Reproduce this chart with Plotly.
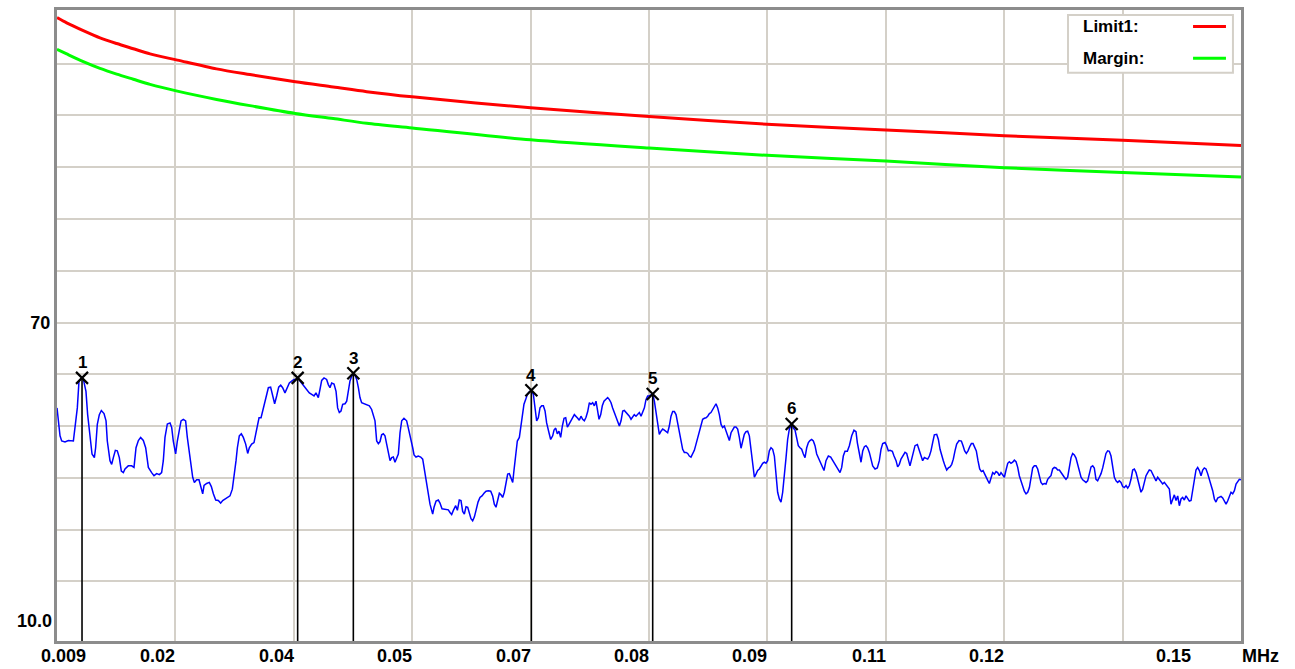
import plotly.graph_objects as go

# ---------------- data (frequency in kHz, level in dBuV) ----------------
trace_khz = [
    9.0, 9.36, 9.56, 9.95, 10.35, 10.95, 11.14, 11.42, 11.62, 11.86, 11.98, 12.14, 12.45, 12.65, 12.93,
    13.17, 13.45, 13.60, 13.80, 14.04, 14.28, 14.60, 14.84, 14.99, 15.31, 15.51, 15.71, 15.95, 16.18,
    16.42, 16.66, 16.90, 17.10, 17.49, 17.89, 18.17, 18.41, 18.69, 18.96, 19.28, 19.56, 19.88, 20.27,
    20.55, 20.87, 21.19, 21.46, 21.66, 21.86, 22.14, 22.46, 22.66, 22.85, 23.13, 23.33, 23.57, 23.77,
    24.04, 24.32, 24.52, 24.84, 25.16, 25.36, 25.63, 25.91, 26.15, 26.35, 26.51, 26.82, 27.14, 27.38,
    27.62, 27.90, 28.21, 28.49, 28.73, 29.01, 29.32, 29.60, 29.88, 30.08, 30.32, 30.48, 30.71, 30.95,
    31.19, 31.47, 31.71, 31.90, 32.18, 32.46, 32.66, 32.86, 33.06, 33.30, 33.49, 33.77, 33.97, 34.17,
    34.44, 34.68, 34.92, 35.16, 35.40, 35.64, 35.87, 36.15, 36.43, 36.67, 36.95, 37.22, 37.42, 37.66,
    37.94, 38.34, 38.73, 39.05, 39.33, 39.61, 39.84, 40.12, 40.32, 40.52, 40.80, 41.11, 41.31, 41.51,
    41.71, 41.99, 42.23, 42.42, 42.62, 42.82, 43.02, 43.30, 43.50, 43.69, 43.89, 44.09, 44.29, 44.49,
    44.69, 44.89, 45.08, 45.28, 45.56, 45.88, 46.20, 46.47, 46.67, 46.87, 47.07, 47.27, 47.47, 47.66,
    47.86, 48.06, 48.26, 48.46, 48.66, 48.86, 49.05, 49.25, 49.45, 49.65, 49.85,
    50.05, 50.32, 50.64, 50.84, 51.12, 51.36, 51.52, 51.75, 52.03, 52.31, 52.55, 52.71, 52.94, 53.10,
    53.26, 53.42, 53.62, 53.74, 53.90, 54.14, 54.41, 54.61, 54.85, 55.21, 55.60, 55.80, 56.00, 56.20,
    56.48, 56.68, 56.91, 57.11, 57.31, 57.51, 57.71, 57.91, 58.10, 58.30, 58.50, 58.70, 58.90, 59.14,
    59.37, 59.61, 59.85, 60.09, 60.37, 60.65, 60.88, 61.08, 61.28, 61.44, 61.68, 61.88, 62.07, 62.27,
    62.47, 62.67, 62.87, 63.07, 63.27, 63.42, 63.66, 63.82, 64.06, 64.22, 64.42, 64.61, 64.81, 65.01,
    65.25, 65.49, 65.73, 65.92, 66.12, 66.32, 66.52, 66.72, 66.92, 67.12, 67.31, 67.59, 67.79, 68.03,
    68.19, 68.39, 68.58, 68.78, 68.98, 69.18, 69.38, 69.58, 69.78, 69.97, 70.17, 70.41, 70.61, 70.81,
    71.01, 71.20, 71.40, 71.60, 71.80, 72.00, 72.20, 72.40, 72.59, 72.79, 72.99, 73.19, 73.39, 73.55,
    73.75, 73.94, 74.14, 74.38, 74.58, 74.78, 74.98, 75.17, 75.37, 75.57, 75.77, 75.97, 76.17, 76.37,
    76.56, 76.76, 76.96, 77.16, 77.36, 77.56, 77.75, 77.95, 78.15, 78.35, 78.55, 78.75, 78.95, 79.14,
    79.34, 79.54, 79.74, 79.94, 80.14, 80.33, 80.53, 80.73, 80.93, 81.13, 81.33, 81.53, 81.72, 81.92,
    82.12, 82.32, 82.52, 82.72, 82.92, 83.11, 83.31, 83.51, 83.71, 83.91, 84.11, 84.30, 84.50, 84.70,
    84.90, 85.10, 85.30, 85.50, 85.69, 85.89, 86.09, 86.29, 86.49, 86.69, 86.88, 87.08, 87.28, 87.48,
    87.68, 87.88, 88.08, 88.27, 88.47, 88.67, 88.87, 89.07, 89.27, 89.46, 89.66, 89.86, 90.06, 90.26,
    90.46, 90.66, 90.85, 91.05, 91.25, 91.45, 91.65, 91.85, 92.05, 92.24, 92.44, 92.64, 92.84, 93.04,
    93.24, 93.43, 93.63, 93.83, 94.03, 94.23, 94.43, 94.63, 94.82, 95.02, 95.22, 95.42, 95.62, 95.82,
    96.01, 96.21, 96.49, 96.69, 96.89, 97.09, 97.28, 97.48, 97.68, 97.88, 98.08, 98.28, 98.48, 98.67,
    98.87, 99.07, 99.27, 99.47, 99.67, 99.87,
    100.06, 100.34, 100.58, 100.86, 101.14, 101.37, 101.65, 101.93, 102.25, 102.45, 102.64, 102.84,
    103.12, 103.36, 103.64, 103.91, 104.15, 104.31, 104.55, 104.75, 104.95, 105.15, 105.34, 105.54,
    105.74, 105.94, 106.14, 106.42, 106.69, 106.93, 107.13, 107.33, 107.61, 107.80, 108.00, 108.20,
    108.48, 108.68, 108.92, 109.11, 109.31, 109.51, 109.79, 109.99, 110.19, 110.39, 110.58, 110.78,
    110.98, 111.18, 111.46, 111.70, 111.89, 112.09, 112.29, 112.49, 112.69, 112.89, 113.08, 113.28,
    113.48, 113.76, 113.96, 114.16, 114.35, 114.55, 114.75, 114.95, 115.15, 115.35, 115.55, 115.74,
    115.94, 116.14, 116.42, 116.70, 116.90, 117.09, 117.29, 117.49, 117.69, 117.89, 118.09, 118.28,
    118.48, 118.68, 118.88, 119.08, 119.28, 119.48, 119.67, 119.87, 120.03, 120.23, 120.43, 120.63,
    120.83, 121.02, 121.22, 121.42, 121.62, 121.82, 122.02, 122.22, 122.41, 122.61, 122.81, 123.01,
    123.21, 123.41, 123.60, 123.80, 124.00, 124.20, 124.40, 124.60, 124.80, 124.99, 125.19, 125.39,
    125.59, 125.79, 125.99, 126.18, 126.38, 126.58, 126.78, 126.98, 127.18, 127.37, 127.57, 127.77,
    127.97, 128.17, 128.37, 128.57, 128.76, 128.96, 129.16, 129.36, 129.56, 129.76, 129.95, 130.15,
    130.35, 130.55, 130.75, 130.95, 131.15, 131.34, 131.54, 131.74, 131.94, 132.14, 132.34, 132.53,
    132.73, 132.93, 133.13, 133.33, 133.53, 133.73, 133.92, 134.12, 134.32, 134.52, 134.72, 134.92,
    135.12, 135.31, 135.51, 135.71, 135.91, 136.11, 136.31, 136.51, 136.70, 136.90, 137.10, 137.30,
    137.50, 137.70, 137.89, 138.09, 138.29, 138.49, 138.69, 138.89, 139.08, 139.28, 139.48, 139.68,
    139.88, 140.08, 140.28, 140.47, 140.67, 140.87, 141.07, 141.27, 141.47, 141.66, 141.86, 142.06,
    142.26, 142.46, 142.66, 142.86, 143.05, 143.25, 143.45, 143.65, 143.85, 144.05, 144.25, 144.44,
    144.64, 144.84, 145.04, 145.24, 145.44, 145.63, 145.83, 146.03, 146.23, 146.43, 146.63, 146.83,
    147.02, 147.22, 147.42, 147.62, 147.82, 148.02, 148.22, 148.41, 148.61, 148.81, 149.01, 149.21,
    149.41, 149.61, 149.80, 150.0,
]
trace_dbuv = [
    53.5, 48.1, 47.1, 46.9, 47.2, 47.1, 49.7, 53.5, 58.7, 59.3, 59.4, 59.0, 56.7, 52.2, 48.4,
    44.6, 43.9, 45.8, 50.3, 52.2, 53.0, 52.4, 51.0, 47.1, 43.3, 42.6, 43.9, 45.3, 45.2,
    43.9, 41.3, 41.0, 41.7, 42.3, 42.3, 42.0, 45.8, 47.2, 47.8, 47.2, 45.8, 42.0, 41.0,
    40.4, 40.8, 40.6, 41.0, 43.3, 47.8, 50.4, 50.6, 49.7, 47.1, 44.6, 47.1, 49.7, 51.0,
    51.3, 51.0, 47.8, 43.9, 40.1, 39.1, 39.6, 39.6, 38.1, 36.9, 38.5, 38.9, 39.1, 38.3,
    36.9, 35.7, 35.6, 35.1, 35.6, 35.9, 36.1, 36.5, 37.8, 40.1, 43.3, 45.8, 48.1, 48.5,
    47.8, 46.5, 44.7, 45.8, 46.5, 46.8, 48.4, 50.6, 51.6, 51.6, 52.9, 54.5, 56.1, 57.4,
    57.5, 56.1, 54.3, 55.8, 57.5, 57.9, 57.4, 56.4, 57.4, 58.3, 58.7, 59.0, 59.0, 59.4,
    58.7, 57.9, 57.2, 56.4, 56.1, 55.8, 56.4, 55.5, 57.1, 58.8, 59.3, 59.0, 58.0, 57.4,
    58.3, 58.1, 56.7, 53.5, 52.6, 52.9, 54.2, 54.3, 54.8, 56.7, 58.7, 59.6, 60.2, 59.8,
    59.0, 57.4, 55.5, 54.5, 54.3, 54.0, 53.9, 53.2, 52.2, 51.0, 47.1, 46.6, 47.0, 48.3,
    48.5, 48.1, 46.5, 44.6, 43.3, 43.9, 44.0, 43.0, 44.0, 44.6, 48.7,
    51.0, 51.5, 51.0, 49.6, 47.8, 45.8, 44.4, 44.0, 44.2, 44.0, 43.6, 42.0, 40.1, 38.1,
    36.2, 34.9, 33.7, 33.0, 34.3, 35.5, 35.7, 35.1, 34.0, 33.9, 33.8, 33.3, 32.9, 33.7,
    34.6, 33.7, 35.7, 35.6, 33.5, 33.0, 34.4, 34.3, 33.1, 32.1, 31.7, 32.4, 33.7, 35.3,
    36.2, 36.5, 37.0, 37.4, 37.5, 37.4, 36.5, 34.9, 34.3, 35.7, 37.0, 36.7, 36.2, 37.2,
    38.8, 40.7, 40.8, 40.1, 39.1, 41.4, 44.6, 47.1, 47.8, 49.4, 52.2, 54.2, 55.1, 56.1,
    56.6, 56.9, 56.1, 53.5, 51.0, 51.6, 53.5, 53.9, 53.9, 52.9, 50.6, 48.7, 47.4, 48.1,
    49.2, 49.6, 48.5, 49.0, 47.8, 50.0, 51.5, 51.6, 49.8, 50.3, 51.0, 51.6, 52.2, 51.9,
    51.5, 51.1, 51.9, 51.3, 51.0, 51.7, 52.8, 54.5, 54.2, 54.5, 53.9, 54.8, 52.9, 51.3,
    52.2, 53.9, 54.8, 55.3, 55.5, 55.1, 54.5, 53.5, 52.6, 51.5, 50.6, 50.0, 51.0, 52.9,
    53.0, 52.6, 52.4, 51.9, 51.3, 51.7, 52.2, 51.9, 52.2, 52.6, 51.9, 52.9, 53.5, 55.1,
    55.8, 55.8, 56.0, 56.2, 54.8, 52.6, 49.7, 48.4, 49.0, 49.4, 49.2, 49.0, 48.7, 50.0,
    51.9, 52.8, 52.8, 52.2, 50.3, 49.0, 47.1, 45.5, 44.9, 44.9, 44.7, 44.2, 44.0, 44.6,
    45.3, 46.5, 47.8, 49.0, 50.3, 51.3, 51.5, 51.6, 51.9, 52.4, 52.6, 53.2, 53.7, 54.3,
    53.5, 52.2, 50.3, 49.7, 50.0, 49.0, 48.4, 47.2, 48.7, 49.4, 49.8, 49.8, 49.4, 47.8,
    45.7, 47.1, 48.4, 48.9, 49.0, 48.1, 45.2, 43.3, 40.1, 40.7, 41.4, 41.7, 42.3, 42.8,
    43.0, 42.8, 43.3, 45.2, 45.8, 45.5, 44.2, 40.7, 37.2, 35.9, 35.3, 37.2, 40.1, 43.9,
    47.4, 49.4, 50.5, 49.6, 49.2, 47.8, 46.2, 45.8, 45.5, 44.6, 43.9, 45.8, 46.8, 47.2,
    47.4, 47.1, 46.2, 44.6, 43.9, 43.3,
    42.3, 41.4, 43.3, 44.2, 44.0, 43.4, 42.8, 41.9, 41.0, 42.0, 44.2, 45.1,
    45.1, 46.2, 48.1, 49.2, 48.9, 46.8, 44.9, 43.0, 45.2, 46.0, 46.2, 45.8,
    44.9, 43.6, 42.3, 41.7, 41.9, 43.3, 45.5, 46.6, 46.8, 46.2, 45.2, 45.3,
    45.1, 44.2, 43.3, 42.1, 42.6, 43.6, 44.4, 44.9, 44.7, 43.6, 42.3, 43.6,
    45.2, 46.2, 46.4, 45.2, 44.2, 43.3, 43.9, 43.8, 43.6, 44.2, 45.2, 46.8,
    48.3, 48.4, 47.4, 45.5, 44.2, 43.3, 42.3, 41.5, 41.9, 42.1, 42.6, 43.6,
    45.2, 46.5, 47.2, 47.1, 46.2, 45.2, 44.7, 45.2, 46.0, 46.6, 46.6, 45.8,
    45.2, 43.3, 41.7, 41.2, 41.4, 40.7, 40.2, 39.4, 38.9, 40.1, 41.0, 40.7,
    41.2, 41.0, 40.4, 41.0, 40.4, 40.1, 41.5, 42.8, 43.1, 42.8, 43.0, 43.4,
    43.1, 42.0, 40.4, 39.4, 38.1, 37.4, 36.9, 37.2, 38.1, 40.1, 41.9, 42.3,
    42.3, 41.7, 40.1, 39.1, 38.7, 38.9, 38.8, 39.7, 40.1, 40.4, 41.7, 42.0,
    41.9, 41.5, 41.5, 41.0, 40.4, 40.1, 39.7, 40.1, 42.0, 43.9, 44.7, 44.4,
    43.8, 42.5, 41.2, 40.1, 39.6, 39.3, 39.1, 39.4, 40.7, 42.1, 42.3, 41.9,
    39.7, 39.4, 40.1, 40.8, 41.9, 43.3, 44.7, 45.2, 45.1, 44.2, 41.9, 40.1,
    39.4, 39.1, 39.4, 39.1, 38.3, 38.1, 38.5, 38.0, 38.5, 39.7, 41.5, 41.7,
    41.0, 39.7, 38.3, 37.2, 37.8, 39.1, 40.4, 41.0, 41.5, 41.4, 40.7, 39.9,
    39.4, 40.1, 39.7, 39.1, 38.8, 39.1, 38.7, 38.3, 37.8, 34.9, 35.9, 36.7,
    35.6, 36.5, 34.6, 35.9, 36.2, 35.7, 36.5, 36.1, 35.5, 35.6, 37.5, 40.1,
    41.5, 42.0, 41.4, 40.4, 41.5, 41.9, 41.7, 40.8, 39.7, 38.7, 37.5, 35.9,
    35.3, 36.1, 36.2, 36.4, 36.1, 35.6, 34.9, 35.5, 36.4, 37.2, 36.9, 37.5,
    38.8, 39.4, 39.7, 39.6,
]

limit_khz = [9.0, 10.15, 12.13, 14.12, 16.11, 18.09, 20.08, 23.33, 28.0, 31.98, 37.38,
             41.9, 45.88, 51.3, 65.4, 79.5, 93.55, 107.7, 121.8, 135.9, 150.0]
limit_dbuv = [128.9, 127.9, 126.4, 125.0, 123.9, 122.9, 121.9, 120.7, 119.0, 117.9, 116.5,
              115.5, 114.6, 113.6, 111.5, 109.8, 108.3, 107.2, 106.1, 105.2, 104.2]

margin_khz = [9.0, 10.15, 12.13, 14.12, 16.11, 18.09, 20.08, 23.33, 28.0, 31.98, 37.38,
              41.9, 45.88, 51.3, 65.4, 79.5, 93.55, 107.7, 121.8, 135.9, 150.0]
margin_dbuv = [122.8, 121.9, 120.4, 119.1, 118.0, 117.0, 116.0, 114.7, 113.1, 111.9, 110.4,
               109.4, 108.5, 107.6, 105.3, 103.7, 102.3, 101.2, 99.9, 99.0, 98.1]

marker_labels = ["1", "2", "3", "4", "5", "6"]
marker_khz = [11.98, 37.66, 44.29, 65.49, 79.94, 96.49]
marker_dbuv = [59.3, 59.3, 60.2, 56.9, 56.2, 50.4]

# axis: linear 0.009 .. 0.15 MHz, ten divisions
x_range_mhz = [0.009, 0.15]
x_grid_mhz = [0.0231, 0.0372, 0.0513, 0.0654, 0.0795, 0.0936, 0.1077, 0.1218, 0.1359]
x_label_mhz = [0.009, 0.0231, 0.0372, 0.0513, 0.0654, 0.0795, 0.0936, 0.1077, 0.1218, 0.15]
x_label_text = ["0.009", "0.02", "0.04", "0.05", "0.07", "0.08", "0.09", "0.11", "0.12", "0.15"]
y_range = [8.46, 130.38]
y_grid = [20, 30, 40, 50, 60, 70, 80, 90, 100, 110, 120]
y_grid_text = ["", "", "", "", "", "70", "", "", "", "", ""]

# ---------------- figure ----------------
FONT = "Liberation Sans, Arial, sans-serif"
to_mhz = lambda seq: [v / 1000.0 for v in seq]

fig = go.Figure()

fig.add_trace(go.Scatter(x=to_mhz(limit_khz), y=limit_dbuv, mode="lines",
                         line=dict(color="#ff0000", width=3, shape="spline", smoothing=0.8),
                         hoverinfo="skip", showlegend=False))
fig.add_trace(go.Scatter(x=to_mhz(margin_khz), y=margin_dbuv, mode="lines",
                         line=dict(color="#00ff00", width=3, shape="spline", smoothing=0.8),
                         hoverinfo="skip", showlegend=False))
fig.add_trace(go.Scatter(x=to_mhz(trace_khz), y=trace_dbuv, mode="lines",
                         line=dict(color="#0000ff", width=1.5),
                         hoverinfo="skip", showlegend=False))

# marker drop lines
lx, ly = [], []
for f, v in zip(marker_khz, marker_dbuv):
    lx += [f / 1000.0, f / 1000.0, None]
    ly += [v, y_range[0], None]
fig.add_trace(go.Scatter(x=lx, y=ly, mode="lines", line=dict(color="#000000", width=1.6),
                         hoverinfo="skip", showlegend=False))
fig.add_trace(go.Scatter(x=to_mhz(marker_khz), y=marker_dbuv, mode="markers",
                         marker=dict(symbol="x-thin-open", size=12, color="#000000",
                                     line=dict(color="#000000", width=2.2)),
                         hoverinfo="skip", showlegend=False))

annotations = []
for f, v, lab in zip(marker_khz, marker_dbuv, marker_labels):
    annotations.append(dict(x=f / 1000.0, y=v, xref="x", yref="y", yanchor="middle",
                            xanchor="center", yshift=15, text=lab, showarrow=False,
                            font=dict(family=FONT, size=17, color="#000000", weight=700)))

for i, (xv, txt) in enumerate(zip(x_label_mhz, x_label_text)):
    if i == 0:
        anchor, shift = "left", -18
    elif i == len(x_label_mhz) - 1:
        anchor, shift = "right", -48
    else:
        anchor, shift = "right", 2
    annotations.append(dict(x=xv, xref="x", y=0, yref="paper", yanchor="top", yshift=-3,
                            xanchor=anchor, xshift=shift, text=txt, showarrow=False,
                            font=dict(family=FONT, size=18, color="#000000", weight=700)))
annotations.append(dict(x=1, xref="paper", y=0, yref="paper", yanchor="top", yshift=-3,
                        xanchor="left", xshift=-1, text="MHz", showarrow=False,
                        font=dict(family=FONT, size=18, color="#000000", weight=700)))
annotations.append(dict(x=0, xref="paper", y=0, yref="paper", yanchor="middle", yshift=20,
                        xanchor="right", xshift=-3, text="10.0", showarrow=False,
                        font=dict(family=FONT, size=18, color="#000000", weight=700)))

# custom legend box (text left, line sample right)
leg_x0, leg_x1, leg_y0, leg_y1 = 0.8539, 0.9932, 0.9006, 0.9921
legend_names = ["Limit1:", "Margin:"]
legend_colors = ["#ff0000", "#00ff00"]
legend_rows_y = [0.9740, 0.9235]
shapes = [dict(type="rect", xref="paper", yref="paper", x0=leg_x0, x1=leg_x1, y0=leg_y0, y1=leg_y1,
               line=dict(color="#d4d0c8", width=2), fillcolor="#ffffff", layer="above")]
for name, col, yy in zip(legend_names, legend_colors, legend_rows_y):
    annotations.append(dict(x=leg_x0 + 0.011, xref="paper", y=yy, yref="paper", xanchor="left",
                            yanchor="middle", text=name, showarrow=False,
                            font=dict(family=FONT, size=17, color="#000000", weight=700)))
    shapes.append(dict(type="line", xref="paper", yref="paper", x0=0.9595, x1=0.9873, y0=yy, y1=yy,
                       line=dict(color=col, width=3), layer="above"))

fig.update_layout(
    width=1295, height=669,
    margin=dict(l=57, r=54, t=7, b=28, pad=0),
    paper_bgcolor="#ffffff", plot_bgcolor="#ffffff",
    showlegend=False,
    annotations=annotations, shapes=shapes,
    xaxis=dict(range=[x_range_mhz[0], x_range_mhz[1]], tickvals=x_grid_mhz, showticklabels=False,
               showgrid=True, gridcolor="#d4d0c8", gridwidth=2, zeroline=False, ticks="",
               showline=True, linecolor="#8c8c8c", linewidth=3, mirror=True, fixedrange=True),
    yaxis=dict(range=y_range, tickvals=y_grid, ticktext=y_grid_text,
               tickfont=dict(family=FONT, size=18, color="#000000", weight=700),
               showgrid=True, gridcolor="#d4d0c8", gridwidth=2, zeroline=False, ticks="",
               showline=True, linecolor="#8c8c8c", linewidth=3, mirror=True, fixedrange=True),
)

fig.write_html("out.html", config={"displayModeBar": False},
               post_script="document.body.style.margin='0px';document.body.style.overflow='hidden';")
